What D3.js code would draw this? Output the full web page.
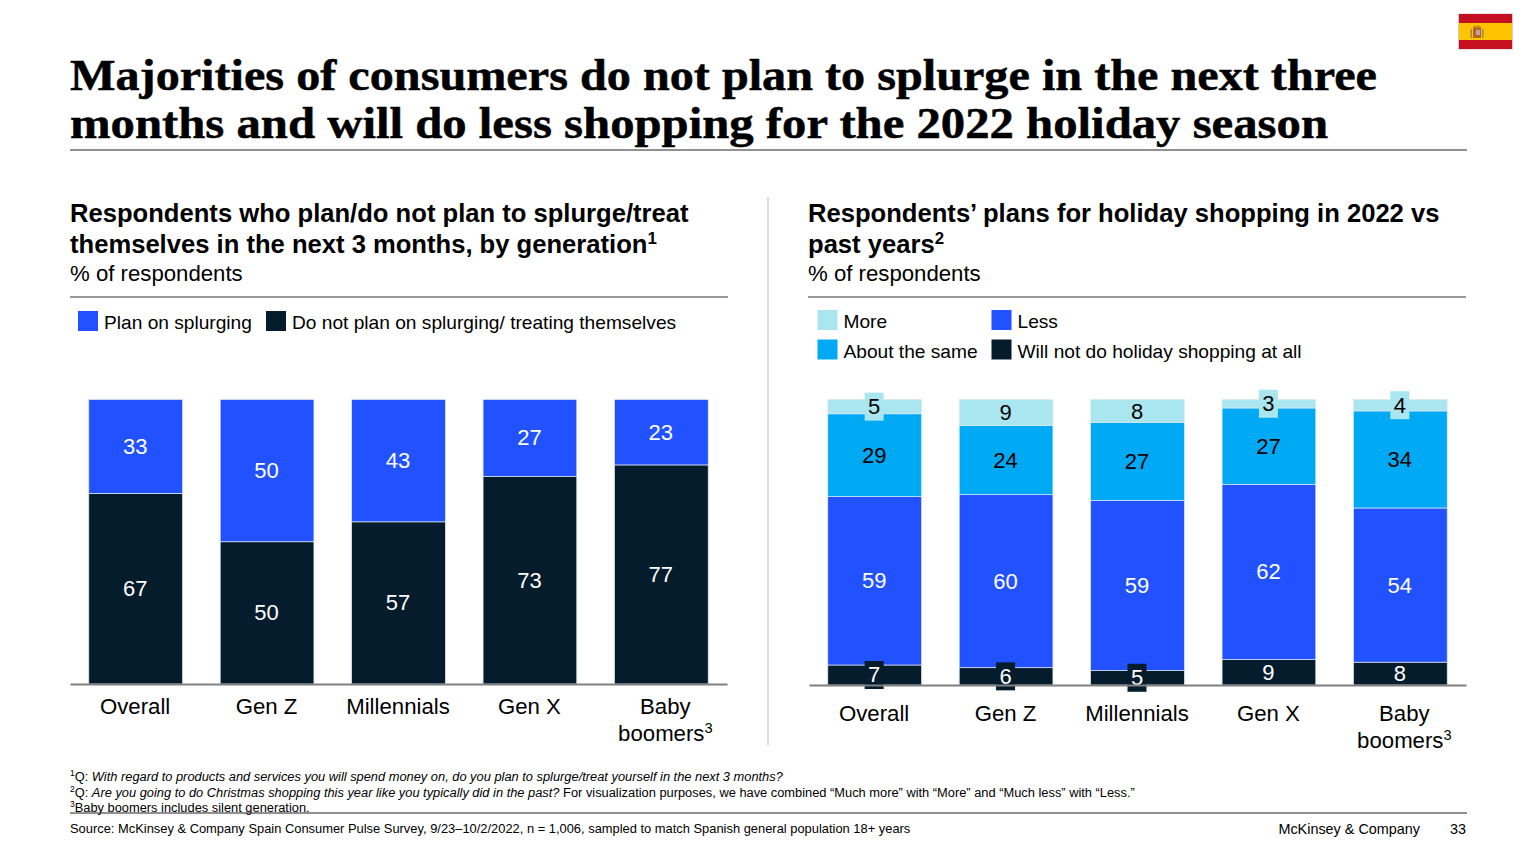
<!DOCTYPE html>
<html>
<head>
<meta charset="utf-8">
<script src="https://cdn.jsdelivr.net/npm/d3@7"></script>
<style>
  html, body { margin: 0; padding: 0; background: #fff; }
  svg { display: block; }
  text { font-family: "Liberation Sans", Arial, sans-serif; fill: #000; }
</style>
</head>
<body>
<div id="chart-area"></div>
<script>
// Datos
const categories = ["Overall", "Gen Z", "Millennials", "Gen X", "Baby boomers"];

const splurgeKeys = ["notPlan", "plan"];
const planSplurge = [33, 50, 43, 27, 23];
const notPlanSplurge = [67, 50, 57, 73, 77];

const holidayKeys = ["none", "less", "same", "more"];
const holidayMore = [5, 9, 8, 3, 4];
const holidaySame = [29, 24, 27, 27, 34];
const holidayLess = [59, 60, 59, 62, 54];
const holidayNone = [7, 6, 5, 9, 8];

const colors = {
    plan: "#2251FF", notPlan: "#051C2C",
    more: "#AAE6F0", same: "#00A9F4", less: "#2251FF", none: "#051C2C"
};
const darkText = new Set(["more", "same"]);

const svg = d3.select("#chart-area")
    .append("svg")
    .attr("width", 1536)
    .attr("height", 864);

// Texto con superindice: partes [texto, estilo], estilo "sup" o "i"
function addText(x, y, parts, size, opts = {}) {
    const t = svg.append("text")
        .attr("x", x)
        .attr("y", y)
        .attr("font-size", size)
        .attr("font-weight", opts.weight || "normal")
        .attr("text-anchor", opts.anchor || "start");
    (Array.isArray(parts) ? parts : [[parts]]).forEach(([str, kind]) => {
        const s = t.append("tspan").text(str);
        if (kind === "sup") {
            s.attr("font-size", size * 0.66).attr("baseline-shift", size * 0.36);
        }
        if (kind === "i") s.attr("font-style", "italic");
    });
    return t;
}

function rule(x1, y1, x2, y2, color, width) {
    svg.append("line")
        .attr("x1", x1).attr("y1", y1)
        .attr("x2", x2).attr("y2", y2)
        .attr("stroke", color)
        .attr("stroke-width", width);
}

// Titulo: la letra original es mas ancha y pesada que la serif disponible
function titleLine(y, str, width) {
    addText(70, y, str, 44, { weight: "bold" })
        .style("font-family", '"Liberation Serif", serif')
        .attr("textLength", width)
        .attr("lengthAdjust", "spacingAndGlyphs")
        .attr("stroke", "#000")
        .attr("stroke-width", 0.5);
}
titleLine(90, "Majorities of consumers do not plan to splurge in the next three", 1307);
titleLine(138, "months and will do less shopping for the 2022 holiday season", 1258);
rule(70, 150, 1467, 150, "#222", 1);

// Bandera
const flag = svg.append("g");
flag.append("rect").attr("x", 1458).attr("y", 13.5).attr("width", 55).attr("height", 36).attr("fill", "#ccc");
flag.append("rect").attr("x", 1459).attr("y", 14).attr("width", 53).attr("height", 35).attr("fill", "#C60F1F");
flag.append("rect").attr("x", 1459).attr("y", 23).attr("width", 53).attr("height", 17).attr("fill", "#FFC400");
flag.append("rect").attr("x", 1473).attr("y", 27).attr("width", 8).attr("height", 11).attr("fill", "#B5651D");
flag.append("rect").attr("x", 1476).attr("y", 30).attr("width", 4).attr("height", 5).attr("fill", "#B9A0C0");
flag.append("rect").attr("x", 1474).attr("y", 25.5).attr("width", 6).attr("height", 2).attr("fill", "#C8961E");
flag.append("rect").attr("x", 1470.5).attr("y", 29).attr("width", 1.5).attr("height", 9).attr("fill", "#A08A50");
flag.append("rect").attr("x", 1482).attr("y", 29).attr("width", 1.5).attr("height", 9).attr("fill", "#A08A50");

// Cabeceras
addText(70, 222, "Respondents who plan/do not plan to splurge/treat", 25.6, { weight: "bold" });
addText(70, 253, [["themselves in the next 3 months, by generation"], ["1", "sup"]], 25.6, { weight: "bold" });
addText(70, 280.5, "% of respondents", 22.2);
rule(70, 297, 728, 297, "#999", 2);

addText(808, 222, "Respondents’ plans for holiday shopping in 2022 vs", 25.6, { weight: "bold" });
addText(808, 253, [["past years"], ["2", "sup"]], 25.6, { weight: "bold" });
addText(808, 280.5, "% of respondents", 22.2);
rule(808, 297, 1466, 297, "#999", 2);

rule(768, 197, 768, 745, "#d0d0d0", 1.5);

// Leyendas
function legendItem(x, y, label, color) {
    svg.append("rect")
        .attr("x", x).attr("y", y)
        .attr("width", 20).attr("height", 20)
        .attr("fill", color);
    addText(x + 26, y + 18, label, 19.15);
}
legendItem(78, 311, "Plan on splurging", colors.plan);
legendItem(266, 311, "Do not plan on splurging/ treating themselves", colors.notPlan);
legendItem(817.5, 310, "More", colors.more);
legendItem(991.5, 310, "Less", colors.less);
legendItem(817.5, 339.5, "About the same", colors.same);
legendItem(991.5, 339.5, "Will not do holiday shopping at all", colors.none);

// Grafico apilado
function stackedBars(rows, keys, rangeX, baseY, labelY) {
    const x = d3.scaleBand()
        .domain(categories)
        .range(rangeX)
        .paddingInner(0.287)
        .paddingOuter(0.143);

    const y = d3.scaleLinear()
        .domain([0, 1])
        .range([baseY, 399.5]);

    // Normalizado: las barras llegan siempre arriba aunque sumen 99 o 101
    const series = d3.stack()
        .keys(keys)
        .offset(d3.stackOffsetExpand)(rows);

    const groups = svg.append("g").selectAll("g")
        .data(series)
        .enter()
        .append("g")
        .attr("fill", d => colors[d.key]);

    groups.selectAll("rect")
        .data(d => d)
        .enter()
        .append("rect")
        .attr("x", d => x(d.data.category))
        .attr("y", d => y(d[1]))
        .attr("width", x.bandwidth())
        .attr("height", d => y(d[0]) - y(d[1]))
        .attr("stroke", "#dfe8f2")
        .attr("stroke-width", 0.7);

    // Etiquetas
    const labels = svg.append("g").selectAll("g")
        .data(series.flatMap(s => s.map(d => ({
            key: s.key,
            value: d.data[s.key],
            category: d.data.category,
            mid: (d[0] + d[1]) / 2
        }))))
        .enter()
        .append("g")
        .attr("transform", d => `translate(${x(d.category) + x.bandwidth() / 2 - 0.5},${y(d.mid)})`);

    labels.filter(d => d.value <= 7)
        .append("rect")
        .attr("x", -9.5)
        .attr("y", -14)
        .attr("width", 19)
        .attr("height", 28)
        .attr("fill", d => colors[d.key]);

    labels.append("text")
        .attr("text-anchor", "middle")
        .attr("dy", "0.34em")
        .attr("font-size", 22)
        .style("fill", d => darkText.has(d.key) ? "#000" : "#fff")
        .text(d => d.value);

    // Eje
    const axis = svg.append("g")
        .attr("transform", `translate(0,${baseY})`)
        .call(d3.axisBottom(x).tickSize(0).tickFormat(""));
    axis.select(".domain").attr("stroke", "#808080").attr("stroke-width", 2);

    categories.forEach((c) => {
        const cx = x(c) + x.bandwidth() / 2;
        if (c === "Baby boomers") {
            addText(cx + 4, labelY, "Baby", 22.2, { anchor: "middle" });
            addText(cx + 4, labelY + 27, [["boomers"], ["3", "sup"]], 22.2, { anchor: "middle" });
        } else {
            addText(cx - 0.5, labelY, c, 22.2, { anchor: "middle" });
        }
    });
}

const splurgeRows = categories.map((c, i) => ({
    category: c, plan: planSplurge[i], notPlan: notPlanSplurge[i]
}));
const holidayRows = categories.map((c, i) => ({
    category: c, more: holidayMore[i], same: holidaySame[i], less: holidayLess[i], none: holidayNone[i]
}));

stackedBars(splurgeRows, splurgeKeys, [70, 727], 684, 714);
stackedBars(holidayRows, holidayKeys, [809, 1466], 685, 721);

// Notas
addText(70, 780.5, [["1", "sup"], ["Q: "], ["With regard to products and services you will spend money on, do you plan to splurge/treat yourself in the next 3 months?", "i"]], 12.85);
addText(70, 796.5, [["2", "sup"], ["Q: "], ["Are you going to do Christmas shopping this year like you typically did in the past?", "i"], [" For visualization purposes, we have combined “Much more” with “More” and “Much less” with “Less.”"]], 12.85);
addText(70, 812, [["3", "sup"], ["Baby boomers includes silent generation."]], 12.85);
rule(70, 813, 1467, 813, "#222", 1);
addText(70, 833, "Source: McKinsey & Company Spain Consumer Pulse Survey, 9/23–10/2/2022, n = 1,006, sampled to match Spanish general population 18+ years", 12.9);
addText(1420, 834, "McKinsey & Company", 14.4, { anchor: "end" });
addText(1466, 834, "33", 14.4, { anchor: "end" });
</script>
</body>
</html>
